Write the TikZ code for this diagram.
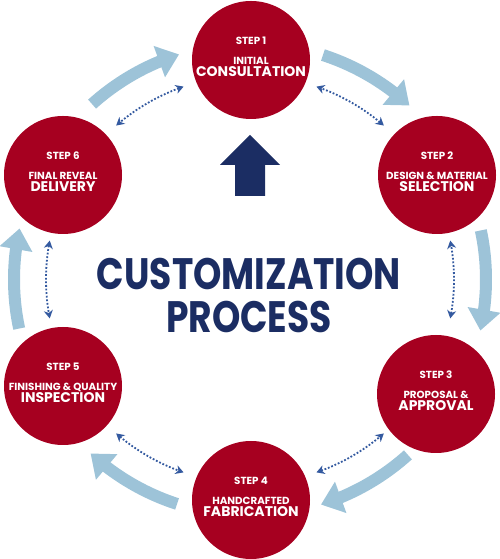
\documentclass[tikz,border=0pt]{standalone}
\usepackage{fontspec}
\setmainfont{Poppins}
\usetikzlibrary{arrows.meta,bending}

\definecolor{stepred}{RGB}{166,0,32}
\definecolor{flowblue}{RGB}{157,195,216}
\definecolor{titlenavy}{RGB}{27,45,99}
\definecolor{linkblue}{RGB}{52,90,160}

\begin{document}
\begin{tikzpicture}[x=1pt, y=1pt,
        stepcircle/.style={circle, fill=stepred, minimum size=118pt, inner sep=0pt},
        steplabel/.style={anchor=base, text=white, font=\bfseries\fontsize{10.3}{11}\selectfont},
        stepname/.style={anchor=base, text=white, font=\bfseries\fontsize{14}{15}\selectfont},
        flowarrow/.style={draw=flowblue, line width=12pt, -{Triangle[length=21pt, width=32pt]}},
        linkarrow/.style={draw=linkblue, line width=1.8pt, dash pattern=on 1.8pt off 1.8pt,
            {Stealth[length=8pt, width=9pt, inset=2.5pt]}-{Stealth[length=8pt, width=9pt, inset=2.5pt]}}]

        % Setup the structure
        \useasboundingbox (0,0) rectangle (500,559);
        \coordinate (hub) at (250,279.5);

        % Flow arrows
        \draw[flowarrow] ([shift={(72:236)}]hub) arc[start angle=72, end angle=47.5, radius=236];
        \draw[flowarrow] ([shift={(12:236)}]hub) arc[start angle=12, end angle=-12.5, radius=236];
        \draw[flowarrow] ([shift={(-48:236)}]hub) arc[start angle=-48, end angle=-72.5, radius=236];
        \draw[flowarrow] ([shift={(-108:236)}]hub) arc[start angle=-108, end angle=-132.5, radius=236];
        \draw[flowarrow] ([shift={(-168:236)}]hub) arc[start angle=-168, end angle=-192.5, radius=236];
        \draw[flowarrow] ([shift={(132:236)}]hub) arc[start angle=132, end angle=107.5, radius=236];

        % Feedback links
        \draw[linkarrow] ([shift={(49:204)}]hub) arc[start angle=49, end angle=71, radius=204];
        \draw[linkarrow] ([shift={(-11:204)}]hub) arc[start angle=-11, end angle=11, radius=204];
        \draw[linkarrow] ([shift={(-71:204)}]hub) arc[start angle=-71, end angle=-49, radius=204];
        \draw[linkarrow] ([shift={(-131:204)}]hub) arc[start angle=-131, end angle=-109, radius=204];
        \draw[linkarrow] ([shift={(169:204)}]hub) arc[start angle=169, end angle=191, radius=204];
        \draw[linkarrow] ([shift={(109:204)}]hub) arc[start angle=109, end angle=131, radius=204];

        % Steps
        \node[stepcircle] (s1) at (251,499) {};
        \node[steplabel] at ([yshift=15.5pt]s1.center) {STEP 1};
        \node[steplabel] at ([yshift=-4.5pt]s1.center) {INITIAL};
        \node[stepname] at ([yshift=-17pt]s1.center) {CONSULTATION};

        \node[stepcircle] (s2) at (437,384) {};
        \node[steplabel] at ([yshift=15.5pt]s2.center) {STEP 2};
        \node[steplabel] at ([yshift=-4.5pt]s2.center) {DESIGN \& MATERIAL};
        \node[stepname] at ([yshift=-17pt]s2.center) {SELECTION};

        \node[stepcircle] (s3) at (436,165) {};
        \node[steplabel] at ([yshift=15.5pt]s3.center) {STEP 3};
        \node[steplabel] at ([yshift=-4.5pt]s3.center) {PROPOSAL \&};
        \node[stepname] at ([yshift=-17pt]s3.center) {APPROVAL};

        \node[stepcircle] (s4) at (251,59) {};
        \node[steplabel] at ([yshift=15.5pt]s4.center) {STEP 4};
        \node[steplabel] at ([yshift=-4.5pt]s4.center) {HANDCRAFTED};
        \node[stepname] at ([yshift=-17pt]s4.center) {FABRICATION};

        \node[stepcircle] (s5) at (63,173) {};
        \node[steplabel] at ([yshift=15.5pt]s5.center) {STEP 5};
        \node[steplabel] at ([yshift=-4.5pt]s5.center) {FINISHING \& QUALITY};
        \node[stepname] at ([yshift=-17pt]s5.center) {INSPECTION};

        \node[stepcircle] (s6) at (63,384) {};
        \node[steplabel] at ([yshift=15.5pt]s6.center) {STEP 6};
        \node[steplabel] at ([yshift=-4.5pt]s6.center) {FINAL REVEAL};
        \node[stepname] at ([yshift=-17pt]s6.center) {DELIVERY};

        % Up arrow
        \fill[titlenavy] (250,424) -- (280,394) -- (265,394) -- (265,363)
            -- (235,363) -- (235,394) -- (220,394) -- cycle;

        % Title
        \node[anchor=base, text=titlenavy, font=\bfseries\fontsize{44}{44}\selectfont]
            (title) at (249,269) {\scalebox{0.82}[1]{CUSTOMIZATION}};
        \node[anchor=base, text=titlenavy, font=\bfseries\fontsize{44}{44}\selectfont]
            (process) at (249,226) {\scalebox{0.82}[1]{PROCESS}};

    \end{tikzpicture}
\end{document}
